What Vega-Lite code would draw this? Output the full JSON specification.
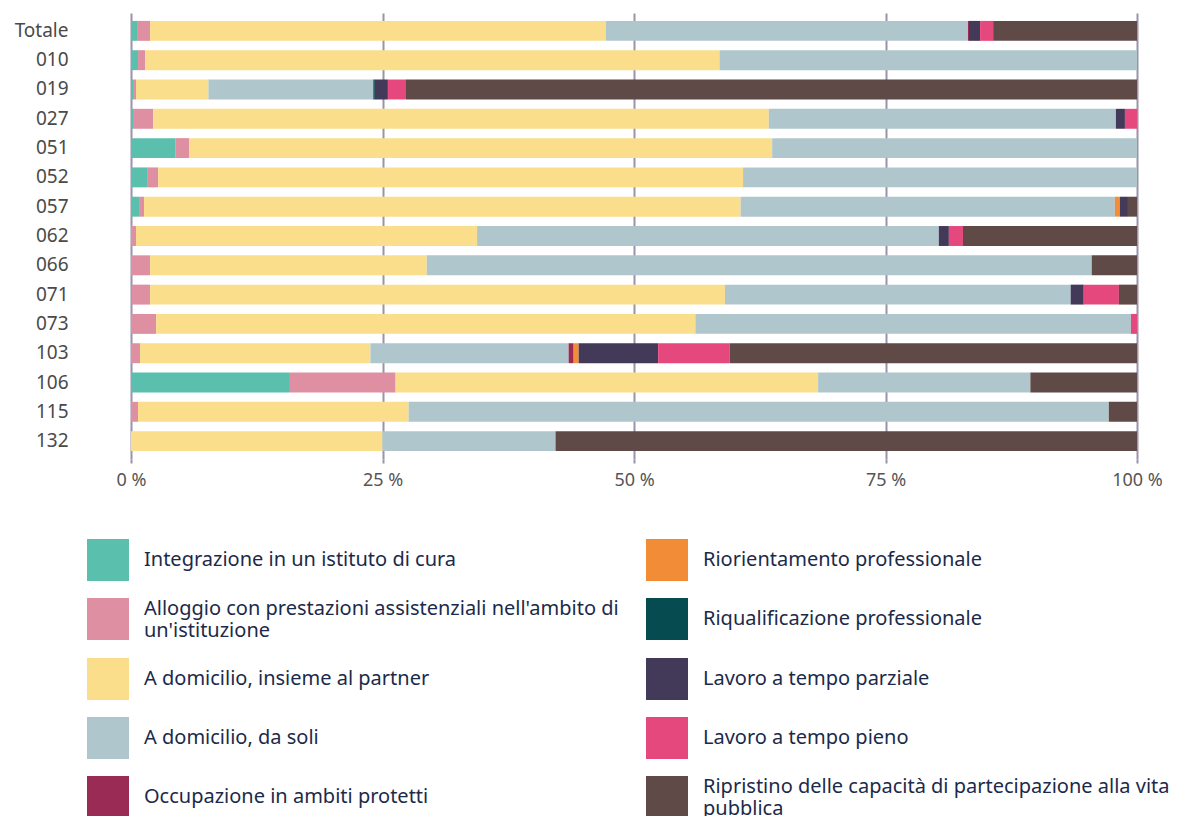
{
  "$schema": "https://vega.github.io/schema/vega-lite/v6.json",
  "width": 1006,
  "height": 446,
  "autosize": {"type": "none"},
  "padding": {"left": 131, "top": 13, "right": 49, "bottom": 357},
  "background": "#ffffff",
  "config": {"view": {"stroke": null}},
  "data": {
    "values": [
      {"r": "Totale", "a": 0.6, "b": 1.3, "c": 45.3, "d": 36.0, "e": 0.1, "f": 0, "g": 0, "h": 1.1, "i": 1.3, "j": 14.3},
      {"r": "010", "a": 0.7, "b": 0.7, "c": 57.1, "d": 41.5, "e": 0, "f": 0, "g": 0, "h": 0, "i": 0, "j": 0},
      {"r": "019", "a": 0.2, "b": 0.3, "c": 7.2, "d": 16.4, "e": 0, "f": 0, "g": 0.15, "h": 1.3, "i": 1.8, "j": 72.7},
      {"r": "027", "a": 0.2, "b": 2.0, "c": 61.2, "d": 34.5, "e": 0, "f": 0, "g": 0, "h": 0.9, "i": 1.2, "j": 0},
      {"r": "051", "a": 4.4, "b": 1.4, "c": 58.0, "d": 36.3, "e": 0, "f": 0, "g": 0, "h": 0, "i": 0, "j": 0},
      {"r": "052", "a": 1.6, "b": 1.1, "c": 58.2, "d": 39.2, "e": 0, "f": 0, "g": 0, "h": 0, "i": 0, "j": 0},
      {"r": "057", "a": 0.8, "b": 0.5, "c": 59.3, "d": 37.2, "e": 0, "f": 0.5, "g": 0, "h": 0.8, "i": 0, "j": 0.9},
      {"r": "062", "a": 0, "b": 0.5, "c": 33.9, "d": 45.9, "e": 0, "f": 0, "g": 0, "h": 1.0, "i": 1.4, "j": 17.3},
      {"r": "066", "a": 0, "b": 1.9, "c": 27.5, "d": 66.1, "e": 0, "f": 0, "g": 0, "h": 0, "i": 0, "j": 4.5},
      {"r": "071", "a": 0.1, "b": 1.8, "c": 57.2, "d": 34.4, "e": 0, "f": 0, "g": 0, "h": 1.3, "i": 3.5, "j": 1.8},
      {"r": "073", "a": 0, "b": 2.5, "c": 53.6, "d": 43.3, "e": 0, "f": 0, "g": 0, "h": 0, "i": 0.6, "j": 0},
      {"r": "103", "a": 0, "b": 0.9, "c": 22.9, "d": 19.7, "e": 0.5, "f": 0.5, "g": 0, "h": 7.9, "i": 7.1, "j": 40.5},
      {"r": "106", "a": 15.8, "b": 10.5, "c": 42.0, "d": 21.1, "e": 0, "f": 0, "g": 0, "h": 0, "i": 0, "j": 10.6},
      {"r": "115", "a": 0, "b": 0.7, "c": 26.9, "d": 69.6, "e": 0, "f": 0, "g": 0, "h": 0, "i": 0, "j": 2.8},
      {"r": "132", "a": 0, "b": 0, "c": 25.0, "d": 17.2, "e": 0, "f": 0, "g": 0, "h": 0, "i": 0, "j": 57.8}
    ]
  },
  "transform": [
    {"fold": ["a", "b", "c", "d", "e", "f", "g", "h", "i", "j"], "as": ["key", "value"]},
    {"filter": "datum.value > 0"}
  ],
  "mark": {"type": "bar"},
  "encoding": {
    "y": {
      "field": "r",
      "type": "nominal",
      "sort": null,
      "scale": {"paddingInner": 0.32, "paddingOuter": 0.27},
      "axis": {
        "title": null,
        "ticks": false,
        "domain": false,
        "labelPadding": 63,
        "labelFont": "Noto Sans",
        "labelFontSize": 19,
        "labelColor": "#4a4a4a"
      }
    },
    "x": {
      "field": "value",
      "type": "quantitative",
      "stack": "normalize",
      "scale": {"domain": [0, 1]},
      "axis": {
        "title": null,
        "values": [0, 0.25, 0.5, 0.75, 1],
        "labelExpr": "format(datum.value * 100, 'd') + ' %'",
        "labelFlush": false,
        "domain": false,
        "grid": true,
        "gridColor": "#9b93aa",
        "gridWidth": 2,
        "tickColor": "#9b93aa",
        "tickWidth": 2,
        "tickSize": 4,
        "labelPadding": 8,
        "labelFont": "Noto Sans",
        "labelFontSize": 18,
        "labelColor": "#555555"
      }
    },
    "order": {"field": "key", "sort": "ascending"},
    "color": {
      "field": "key",
      "type": "nominal",
      "scale": {
        "domain": ["a", "b", "c", "d", "e", "f", "g", "h", "i", "j"],
        "range": ["#5bbfad", "#de8fa2", "#fade8b", "#afc7cc", "#9a2b55", "#f28c36", "#064b4f", "#433a5a", "#e5487c", "#604a48"]
      },
      "legend": {
        "title": null,
        "orient": "none",
        "legendX": -44,
        "legendY": 526,
        "columns": 2,
        "columnPadding": 27,
        "rowPadding": 17,
        "padding": 0,
        "symbolType": "square",
        "symbolSize": 1764,
        "symbolStrokeWidth": 0,
        "symbolOpacity": 1,
        "labelOffset": 15,
        "labelLimit": 560,
        "labelFont": "Noto Sans",
        "labelFontSize": 20,
        "labelLineHeight": 21,
        "labelColor": "#1b2a4a",
        "encode": {
          "labels": {
            "update": {
              "dy": {"signal": "indexof(['b','j'], datum.value) >= 0 ? -10 : 0"}
            }
          }
        },
        "labelExpr": "datum.value == 'a' ? 'Integrazione in un istituto di cura' : datum.value == 'b' ? [\"Alloggio con prestazioni assistenziali nell'ambito di\", \"un'istituzione\"] : datum.value == 'c' ? 'A domicilio, insieme al partner' : datum.value == 'd' ? 'A domicilio, da soli' : datum.value == 'e' ? 'Occupazione in ambiti protetti' : datum.value == 'f' ? 'Riorientamento professionale' : datum.value == 'g' ? 'Riqualificazione professionale' : datum.value == 'h' ? 'Lavoro a tempo parziale' : datum.value == 'i' ? 'Lavoro a tempo pieno' : ['Ripristino delle capacità di partecipazione alla vita', 'pubblica']"
      }
    }
  }
}
